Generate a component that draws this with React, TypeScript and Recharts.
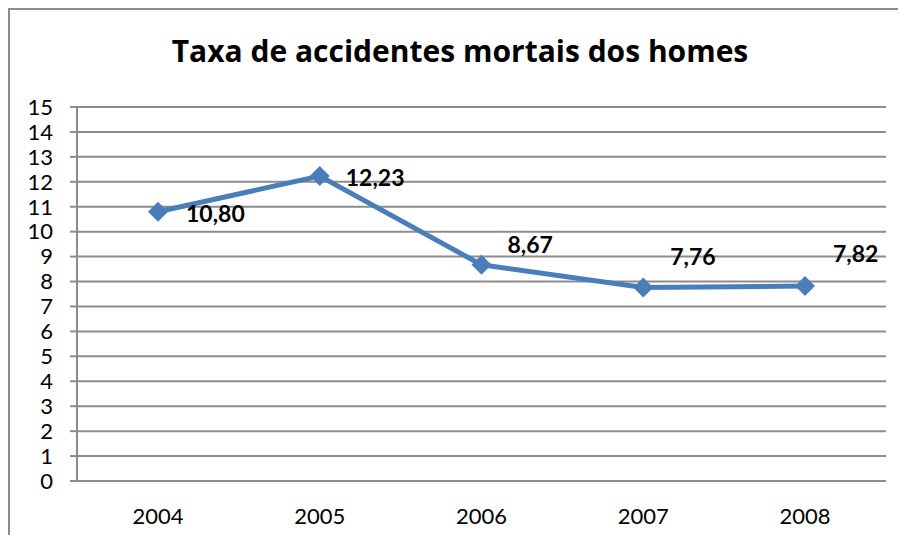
import { LineChart, Line, XAxis, YAxis, CartesianGrid, LabelList } from "recharts";

const years = ["2004", "2005", "2006", "2007", "2008"];
const rates = [10.8, 12.23, 8.67, 7.76, 7.82];
const yTicks = [0, 1, 2, 3, 4, 5, 6, 7, 8, 9, 10, 11, 12, 13, 14, 15];
const boundaryTicks = [0, 1, 2, 3, 4, 5];

const data = years.map((year, i) => ({ year, rate: rates[i] }));

const FONT = "Lato, 'Open Sans', sans-serif";
const TITLE_FONT = "'Open Sans', Lato, sans-serif";
const GRAY = "#8c8c8c";
const BLUE = "#4a7ebb";

// where each value label sits relative to its point (hand placed, like the original)
const LABEL_OFFSETS = [
  [28, 1],
  [26, 1],
  [26, -21],
  [27, -32],
  [28, -33],
];

function Diamond(props: any) {
  const { cx, cy } = props;
  if (cx == null || cy == null) return null;
  const r = 10;
  return (
    <polygon
      points={`${cx},${cy - r} ${cx + r},${cy} ${cx},${cy + r} ${cx - r},${cy}`}
      fill={BLUE}
    />
  );
}

function ValueLabel(props: any) {
  const { x, y, value, index } = props;
  const [dx, dy] = LABEL_OFFSETS[index] || [20, 0];
  return (
    <text
      x={x + dx}
      y={y + dy}
      dominantBaseline="central"
      fontFamily={FONT}
      fontWeight="bold"
      fontSize={23}
      fill="#000"
    >
      {Number(value).toFixed(2).replace(".", ",")}
    </text>
  );
}

export default function App() {
  return (
    <div
      style={{
        position: "relative",
        width: 896,
        height: 525,
        borderTop: `2px solid ${GRAY}`,
        borderLeft: `2px solid ${GRAY}`,
        overflow: "hidden",
        background: "#fff",
      }}
    >
      <div
        style={{
          position: "absolute",
          top: 26,
          left: 0,
          width: 900,
          textAlign: "center",
          fontFamily: TITLE_FONT,
          fontWeight: "bold",
          fontSize: 30,
          lineHeight: "30px",
          color: "#000",
        }}
      >
        Taxa de accidentes mortais dos homes
      </div>
      <LineChart
        width={896}
        height={525}
        data={data}
        margin={{ top: 97, right: 20, left: 0, bottom: 0 }}
      >
        <CartesianGrid vertical={false} stroke={GRAY} strokeWidth={2} />
        <XAxis
          xAxisId="bounds"
          type="number"
          domain={[0, 5]}
          ticks={boundaryTicks}
          tickFormatter={() => ""}
          tickSize={7}
          tickLine={{ stroke: GRAY, strokeWidth: 2 }}
          axisLine={{ stroke: GRAY, strokeWidth: 2 }}
          height={0}
        />
        <XAxis
          dataKey="year"
          padding={{ left: 81, right: 81 }}
          axisLine={false}
          tickLine={false}
          tickSize={0}
          tickMargin={27}
          height={54}
          tick={{ fontFamily: FONT, fontSize: 22, fill: "#000" }}
        />
        <YAxis
          domain={[0, 15]}
          ticks={yTicks}
          interval={0}
          width={67}
          tickSize={7}
          tickMargin={17}
          tickLine={{ stroke: GRAY, strokeWidth: 2 }}
          axisLine={{ stroke: GRAY, strokeWidth: 2 }}
          tick={{ fontFamily: FONT, fontSize: 22, fill: "#000" }}
        />
        <Line
          dataKey="rate"
          stroke={BLUE}
          strokeWidth={5}
          dot={(p: any) => <Diamond key={`d-${p.index}`} {...p} />}
          activeDot={false}
          isAnimationActive={false}
        >
          <LabelList dataKey="rate" content={<ValueLabel />} />
        </Line>
      </LineChart>
    </div>
  );
}
